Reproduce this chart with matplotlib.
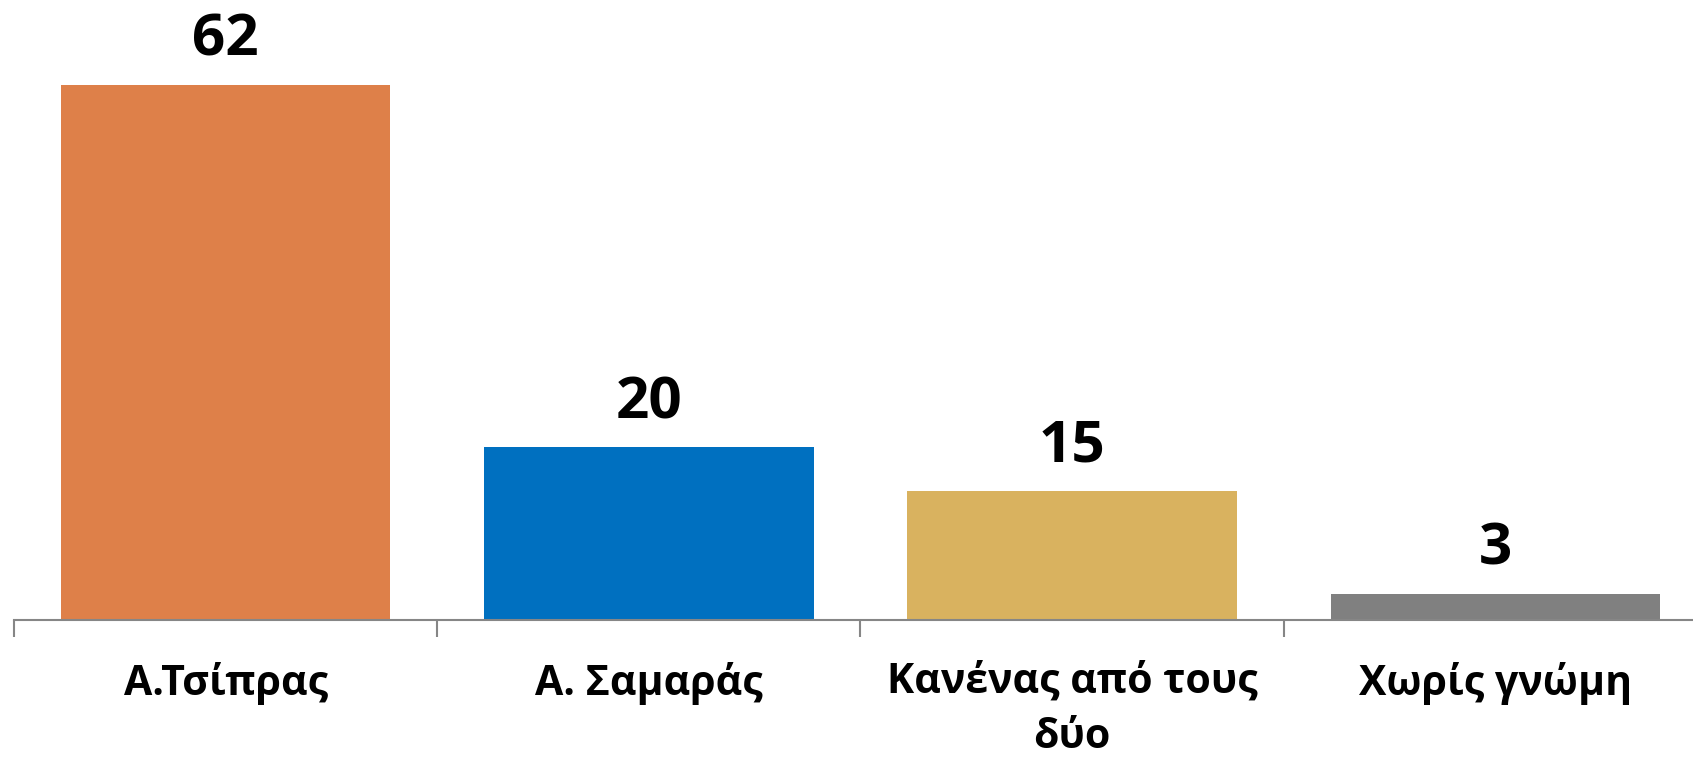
import matplotlib
matplotlib.use("Agg")
import matplotlib.pyplot as plt

categories = ["Α.Τσίπρας", "Α. Σαμαράς", "Κανένας από τους\nδύο", "Χωρίς γνώμη"]
values = [62, 20, 15, 3]
colors = ["#DE8049", "#0070C0", "#D9B25F", "#808080"]

plt.rcParams['font.family'] = ['Open Sans', 'DejaVu Sans']

W, H = 1693, 760
fig = plt.figure(figsize=(W / 100, H / 100), dpi=100)
left = 14 / W
width = (1707 - 14) / W
bottom = 140 / H
height = 620 / H
ax = fig.add_axes([left, bottom, width, height])

x = list(range(len(categories)))
bars = ax.bar(x, values, width=0.778, color=colors, zorder=2)
ax.set_xlim(-0.5, len(categories) - 0.5)
ax.set_ylim(0, 620 / 8.63)

for b, v in zip(bars, values):
    ax.annotate(str(v), (b.get_x() + b.get_width() / 2, v), xytext=(0, 11),
                textcoords="offset points", ha="center", va="bottom",
                fontsize=42, fontweight="bold", color="black")

for s in ["top", "right", "left"]:
    ax.spines[s].set_visible(False)
ax.spines["bottom"].set_color("#868686")
ax.spines["bottom"].set_linewidth(1.5)
ax.set_yticks([])

ax.set_xticks([i - 0.5 for i in range(len(categories) + 1)])
ax.set_xticklabels([])
ax.tick_params(axis="x", length=12, width=1.5, color="#868686")
ax.set_xticks(x, minor=True)
ax.set_xticklabels(categories, minor=True, fontsize=29.5, fontweight="bold",
                   linespacing=1.45, va="top")
ax.tick_params(axis="x", which="minor", length=0, pad=30)

fig.savefig("out.png", dpi=100)
